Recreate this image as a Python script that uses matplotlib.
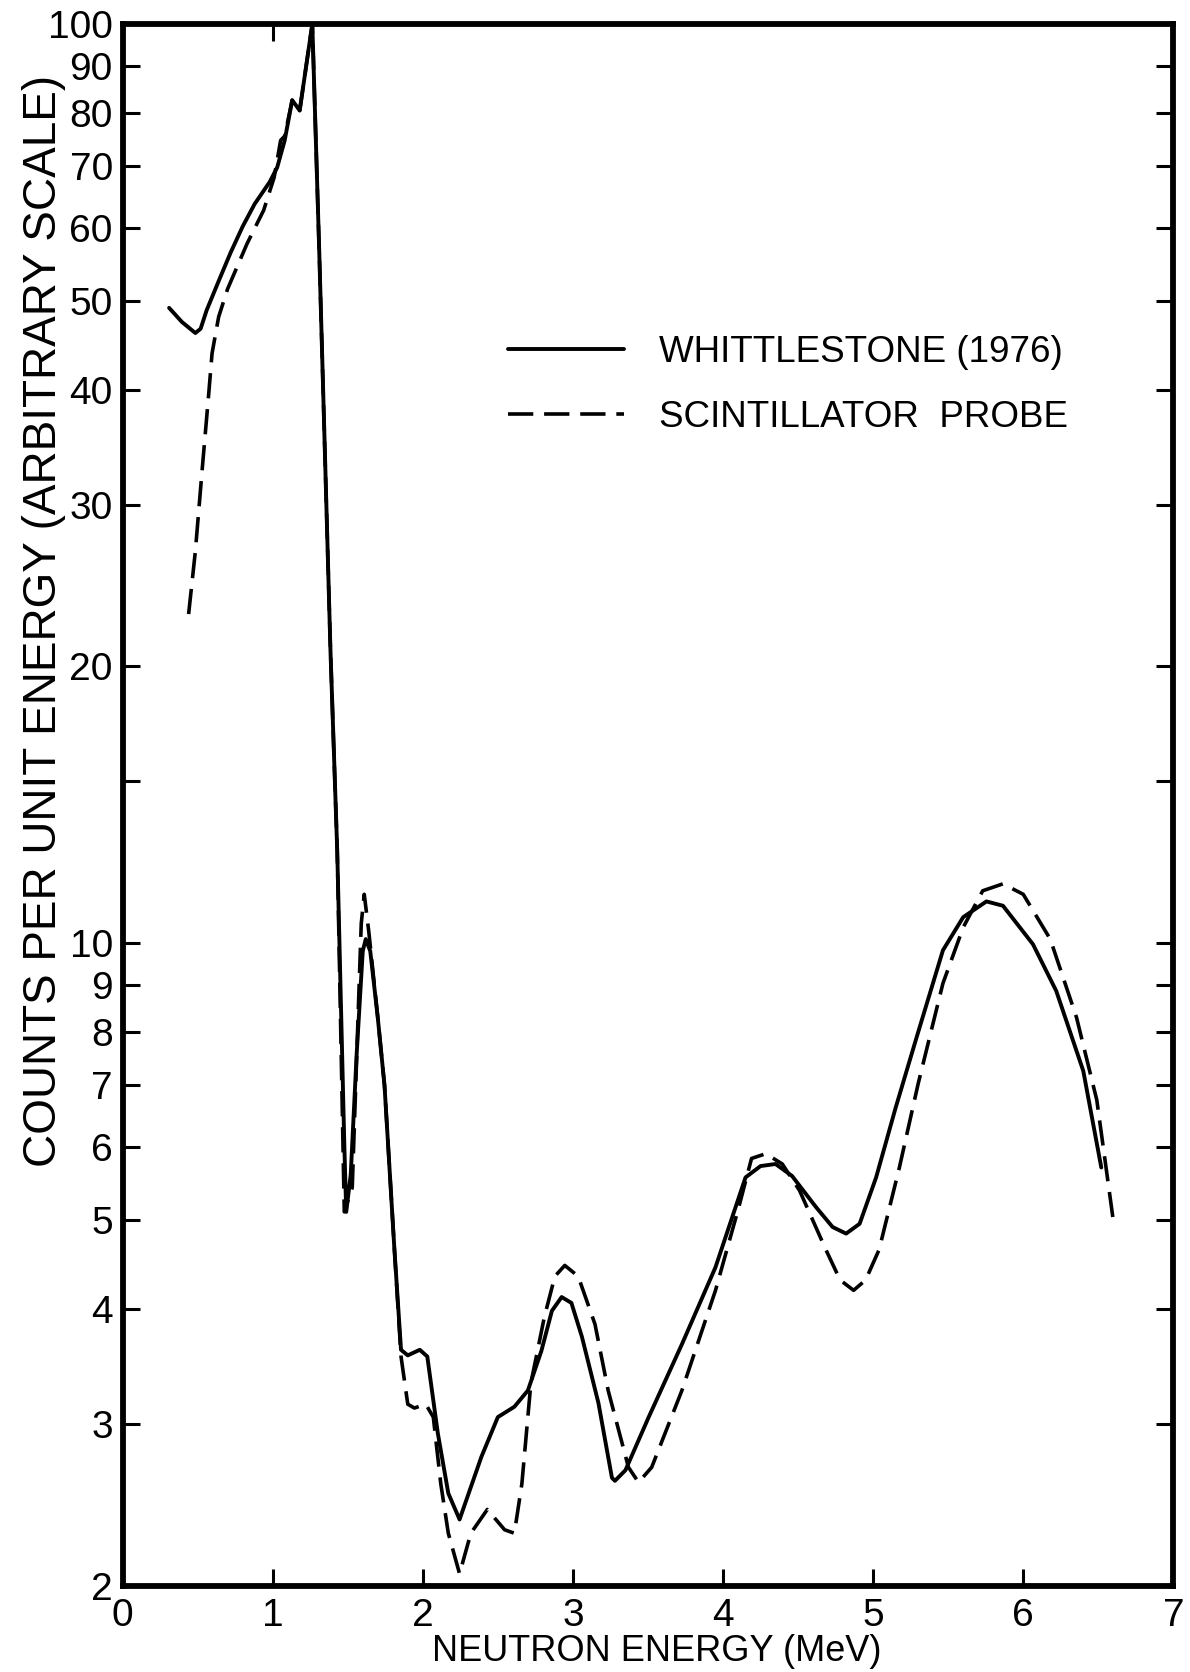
import matplotlib
matplotlib.use('Agg')
from matplotlib import pyplot as plt
from matplotlib.ticker import FixedLocator, FixedFormatter, NullLocator

# Whittlestone (1976) spectrum
whit_e = [0.31, 0.395, 0.485, 0.52, 0.56, 0.64, 0.72, 0.80, 0.88, 0.98, 1.03, 1.08,
          1.13, 1.18, 1.264, 1.31, 1.385, 1.43, 1.477, 1.49, 1.52, 1.56, 1.60, 1.62,
          1.65, 1.70, 1.745, 1.81, 1.855, 1.90, 1.98, 2.03, 2.10, 2.17, 2.245, 2.39,
          2.50, 2.61, 2.70, 2.79, 2.86, 2.925, 2.99, 3.06, 3.17, 3.26, 3.28, 3.35,
          3.505, 3.726, 3.95, 4.15, 4.25, 4.35, 4.46, 4.62, 4.73, 4.82, 4.91, 5.02,
          5.15, 5.29, 5.465, 5.60, 5.755, 5.865, 6.065, 6.22, 6.40, 6.52]
whit_y = [49.1, 47.4, 46.1, 46.6, 48.8, 52.5, 56.4, 60.2, 63.7, 67.3, 69.8, 74.7,
          82.6, 80.5, 100.0, 56.7, 20.8, 12.6, 6.05, 5.1, 5.6, 7.6, 9.8, 10.1,
          9.8, 8.3, 7.0, 4.67, 3.61, 3.56, 3.61, 3.55, 2.93, 2.52, 2.36, 2.76,
          3.05, 3.13, 3.26, 3.6, 3.98, 4.12, 4.06, 3.73, 3.16, 2.62, 2.60, 2.67,
          3.05, 3.66, 4.44, 5.56, 5.72, 5.75, 5.58, 5.16, 4.91, 4.83, 4.95, 5.56,
          6.62, 7.9, 9.82, 10.67, 11.1, 10.98, 9.97, 8.87, 7.26, 5.7]

# scintillator probe spectrum
probe_e = [0.44, 0.485, 0.53, 0.574, 0.596, 0.64, 0.70, 0.83, 0.94, 1.01, 1.053,
           1.08, 1.13, 1.18, 1.264, 1.31, 1.385, 1.43, 1.477, 1.53, 1.59, 1.61,
           1.64, 1.70, 1.745, 1.81, 1.855, 1.90, 1.944, 2.02, 2.07, 2.12, 2.17,
           2.245, 2.32, 2.43, 2.545, 2.61, 2.66, 2.72, 2.81, 2.88, 2.946, 3.035,
           3.147, 3.235, 3.37, 3.437, 3.525, 3.726, 3.95, 4.105, 4.19, 4.285,
           4.395, 4.51, 4.685, 4.78, 4.87, 4.95, 5.04, 5.175, 5.30, 5.465, 5.60,
           5.73, 5.865, 6.0, 6.18, 6.355, 6.49, 6.60]
probe_y = [22.8, 26.7, 32.7, 39.6, 43.8, 48.0, 51.5, 57.7, 62.7, 68.1, 74.7,
           75.5, 82.6, 80.5, 100.0, 56.7, 20.8, 12.6, 5.1, 5.42, 10.5, 11.3,
           10.3, 8.3, 7.0, 4.67, 3.55, 3.15, 3.12, 3.15, 3.05, 2.58, 2.28,
           2.06, 2.28, 2.42, 2.30, 2.28, 2.58, 3.32, 3.92, 4.34, 4.46, 4.34,
           3.85, 3.26, 2.69, 2.59, 2.69, 3.26, 4.19, 5.16, 5.83, 5.9,
           5.75, 5.38, 4.64, 4.3, 4.19, 4.3, 4.64, 5.7, 7.03, 9.04, 10.4,
           11.4, 11.6, 11.3, 10.1, 8.3, 6.75, 4.99]

x_ticks = [0, 1, 2, 3, 4, 5, 6, 7]
y_ticks = [2, 3, 4, 5, 6, 7, 8, 9, 10, 15, 20, 30, 40, 50, 60, 70, 80, 90, 100]
y_labels = ['2', '3', '4', '5', '6', '7', '8', '9', '10', '', '20', '30', '40',
            '50', '60', '70', '80', '90', '100']

plt.rcParams['font.family'] = ['Liberation Sans', 'DejaVu Sans']

fig = plt.figure(figsize=(11.9, 16.72), dpi=100)
ax = fig.add_axes([0.103, 0.0517, 0.883, 0.934])

ax.plot(whit_e, whit_y, color='black', lw=2.8, solid_capstyle='round',
        label='WHITTLESTONE (1976)')
ax.plot(probe_e, probe_y, color='black', lw=2.6, dashes=(7, 3),
        label='SCINTILLATOR  PROBE')

ax.set_yscale('log')
ax.set_xlim(0, 7)
ax.set_ylim(2, 100)

ax.yaxis.set_major_locator(FixedLocator(y_ticks))
ax.yaxis.set_major_formatter(FixedFormatter(y_labels))
ax.yaxis.set_minor_locator(NullLocator())
ax.set_xticks(x_ticks)

ax.tick_params(axis='both', which='major', direction='in', length=12, width=2.2,
               labelsize=28, right=True, pad=7)
ax.tick_params(axis='x', pad=9)

top = ax.secondary_xaxis('top')
top.set_xticks([1])
top.tick_params(direction='in', length=12, width=2.2, labeltop=False)
top.spines['top'].set_visible(False)

for s in ax.spines.values():
    s.set_linewidth(4.2)

ax.set_xlabel('NEUTRON ENERGY (MeV)', fontsize=26)
ax.xaxis.set_label_coords(0.508, -0.031)
ax.set_ylabel('COUNTS PER UNIT ENERGY (ARBITRARY SCALE)', fontsize=33)
ax.yaxis.set_label_coords(-0.054, 0.618)

ax.legend(loc='upper left', bbox_to_anchor=(0.335, 0.822), frameon=False,
          fontsize=26.5, handlelength=3.15, handletextpad=0.95, labelspacing=0.82)

fig.savefig('out.png', dpi=100)
